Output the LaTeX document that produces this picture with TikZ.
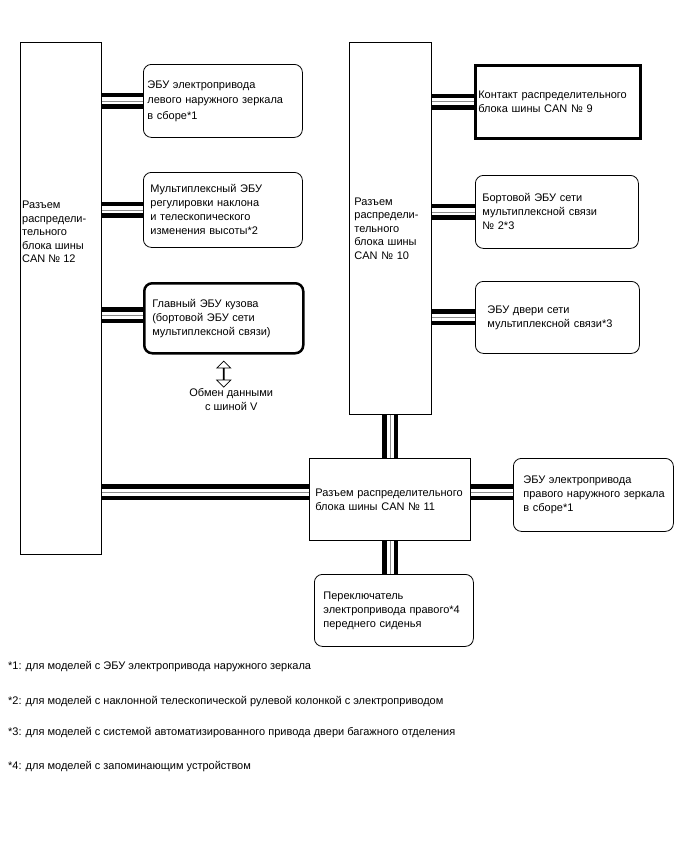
\documentclass[tikz,border=0pt]{standalone}
\usepackage{fontspec}
\setmainfont{Liberation Sans}
\usetikzlibrary{positioning, shapes.arrows}

\begin{document}
\begin{tikzpicture}[
    x=1pt, y=-1pt,
    every node/.style={font=\fontsize{11}{14}\selectfont},
    joint/.style={rectangle, draw, line width=0.8pt, anchor=north west, align=left},
    unit/.style={joint, rounded corners=8pt},
    thickunit/.style={unit, line width=2.5pt},
    tallfont/.style={font=\fontsize{11}{13.5}\selectfont},
    bus/.style={line width=16pt, postaction={draw, white, line width=7pt}, postaction={draw, black!45, line width=0.8pt}},
    xchgarrow/.style={double arrow, draw, fill=white, line width=0.8pt, shape border rotate=90, minimum height=26pt, minimum width=14pt, double arrow head extend=4.5pt, inner sep=0pt},
    note/.style={anchor=west, inner sep=0pt}
]
\useasboundingbox (0,0) rectangle (688,852);

\node[joint, minimum width=81pt, minimum height=512pt, inner sep=0pt] (can12) at (20,42) {};
\node[tallfont, anchor=west, align=left, inner sep=0pt] (can12lbl) at (22,232) {Разъем\\распредели-\\тельного\\блока шины\\CAN № 12};

\node[unit, text width=151pt, inner xsep=4pt, minimum height=73pt, font=\fontsize{11}{15.5}\selectfont] (mirrL) at (143,64) {ЭБУ электропривода\\левого наружного зеркала\\в сборе*1};
\node[unit, text width=145pt, inner xsep=7pt, minimum height=75pt] (tilt) at (143,172) {Мультиплексный ЭБУ\\регулировки наклона\\и телескопического\\изменения высоты*2};
\node[thickunit, text width=143pt, inner xsep=8pt, minimum height=70pt] (mainecu) at (143,282) {Главный ЭБУ кузова\\(бортовой ЭБУ сети\\мультиплексной связи)};
\node[xchgarrow, below=6pt of mainecu] (xchg) {};
\node[below=1pt of xchg, xshift=7.5pt, align=center, inner sep=0pt] (xchglbl) {Обмен данными\\с шиной V};

\node[joint, tallfont, text width=72pt, inner xsep=5pt, minimum height=372pt] (can10) at (349,42) {Разъем\\распредели-\\тельного\\блока шины\\CAN № 10};
\node[joint, line width=2.5pt, text width=159pt, inner xsep=3pt, minimum height=73pt] (can9) at (474,64) {Контакт~распределительного\\блока шины CAN № 9};
\node[unit, text width=149pt, inner xsep=7pt, minimum height=73pt] (onboard2) at (475,175) {Бортовой ЭБУ сети\\мультиплексной связи\\№ 2*3};
\node[unit, text width=140pt, inner xsep=12pt, minimum height=72pt] (door) at (475,281) {ЭБУ двери сети\\мультиплексной~связи*3};

\node[joint, text width=149pt, inner xsep=6pt, minimum height=82pt] (can11) at (309,458) {Разъем~распределительного\\блока шины CAN № 11};
\node[unit, text width=140pt, inner xsep=10pt, minimum height=73pt] (mirrR) at (513,458) {ЭБУ электропривода\\правого~наружного~зеркала\\в сборе*1};
\node[unit, text width=141pt, inner xsep=9pt, minimum height=72pt] (seat) at (314,574) {Переключатель\\электропривода~правого*4\\переднего сиденья};

\coordinate (mainwest) at ([yshift=3pt]mainecu.west);
\coordinate (tap) at ([yshift=7pt]can11.west);
\draw[bus] (can12.east |- mirrL.west) -- (mirrL.west);
\draw[bus] (can12.east |- tilt.west) -- (tilt.west);
\draw[bus] (can12.east |- mainwest) -- (mainwest);
\draw[bus] (can10.east |- can9.west) -- (can9.west);
\draw[bus] (can10.east |- onboard2.west) -- (onboard2.west);
\draw[bus] (can10.east |- door.west) -- (door.west);
\draw[bus] (can10.south) -- (can10.south |- can11.north);
\draw[bus] (can12.east |- tap) -- (tap);
\draw[bus] (tap -| can11.east) -- (tap -| mirrR.west);
\draw[bus] (can10.south |- can11.south) -- (can10.south |- seat.north);

\node[note] (fn1) at (8,667) {*1: для моделей с ЭБУ электропривода наружного зеркала};
\node[note] (fn2) at (8,702) {*2: для моделей с наклонной телескопической рулевой колонкой с электроприводом};
\node[note] (fn3) at (8,733) {*3: для моделей с системой автоматизированного привода двери багажного отделения};
\node[note] (fn4) at (8,767) {*4: для моделей с запоминающим устройством};
\end{tikzpicture}
\end{document}
